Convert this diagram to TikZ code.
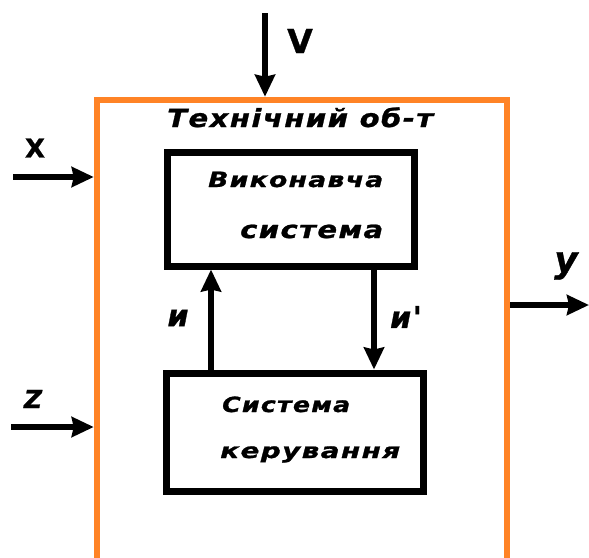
\documentclass[tikz,border=0pt]{standalone}
\usepackage{fontspec}
\usepackage{graphicx}
\usetikzlibrary{arrows.meta}
\newfontfamily\hand[LetterSpace=5,FakeBold=1]{DejaVu Sans}
\definecolor{objorange}{RGB}{255,131,38}
% stretch a word horizontally to a given width, keeping its height
\newcommand\fitw[2]{\resizebox{#1}{\height}{#2}}
\tikzset{
  lettering/.style={inner sep=0pt, anchor=base west},
  sig/.style={inner sep=0pt},
  blockbox/.style={draw=black, line width=7pt, rectangle, inner sep=0pt},
  arr/.style={line width=5.5pt, -{Stealth[length=22pt,width=20pt,inset=2pt]}},
}
\begin{document}
\begin{tikzpicture}[x=1pt,y=-1pt]
  \useasboundingbox (0,0) rectangle (589,557);
  \clip (0,0) rectangle (589,557);
  \fill[white] (0,0) rectangle (589,557);

  % technical object (open at the bottom edge)
  \node[draw=objorange, line width=6.5pt, rectangle, inner sep=0pt,
        minimum width=410pt, minimum height=560pt] (obj) at (302,380) {};

  % inner blocks
  \node[blockbox, minimum width=247pt, minimum height=114pt] (exec) at (290.5,209) {};
  \node[blockbox, minimum width=257pt, minimum height=118pt] (ctrl) at (294.5,432) {};

  % texts
  \node[lettering, font=\hand\bfseries\itshape\fontsize{25}{28}\selectfont] (title) at (167,127) {\fitw{266pt}{Технічний об-т}};
  \node[lettering, font=\hand\bfseries\itshape\fontsize{21}{24}\selectfont] (e1) at (208,187) {\fitw{175pt}{Виконавча}};
  \node[lettering, font=\hand\bfseries\itshape\fontsize{24}{27}\selectfont] (e2) at (240,238) {\fitw{143pt}{система}};
  \node[lettering, font=\hand\bfseries\itshape\fontsize{21}{24}\selectfont] (c1) at (222,412) {\fitw{128pt}{Система}};
  \node[lettering, font=\hand\bfseries\itshape\fontsize{21}{24}\selectfont] (c2) at (220,458) {\fitw{180pt}{керування}};

  % signal labels
  \node[sig, font=\hand\bfseries\fontsize{33}{35}\selectfont] (lv) at (300,41) {V};
  \node[sig, font=\hand\bfseries\fontsize{26}{28}\selectfont] (lx) at (35,148) {X};
  \node[sig, font=\hand\bfseries\itshape\fontsize{25}{27}\selectfont] (lz) at (33,399) {Z};
  \node[sig, font=\hand\bfseries\itshape\fontsize{36}{38}\selectfont] (ly) at (566,266) {y};
  \node[sig, font=\hand\bfseries\itshape\fontsize{30}{32}\selectfont] (lu) at (178,318) {и};
  \node[sig, font=\hand\bfseries\itshape\fontsize{30}{32}\selectfont] (lu2) at (406,317) {и'};

  % free ends of the signal arrows
  \coordinate (vs) at (265,13);
  \coordinate (xs) at (13,177);
  \coordinate (zs) at (11,427);
  \coordinate (ye) at (589,305);
  \coordinate (ux) at (211,0);
  \coordinate (dx) at (374,0);

  \draw[arr] (vs) -- (vs |- obj.north);
  \draw[arr] (xs) -- (xs -| obj.west);
  \draw[arr] (zs) -- (zs -| obj.west);
  \draw[arr] (obj.east |- ye) -- (ye);
  \draw[arr] (ctrl.north -| ux) -- (exec.south -| ux);
  \draw[arr] (exec.south -| dx) -- (ctrl.north -| dx);
\end{tikzpicture}
\end{document}
